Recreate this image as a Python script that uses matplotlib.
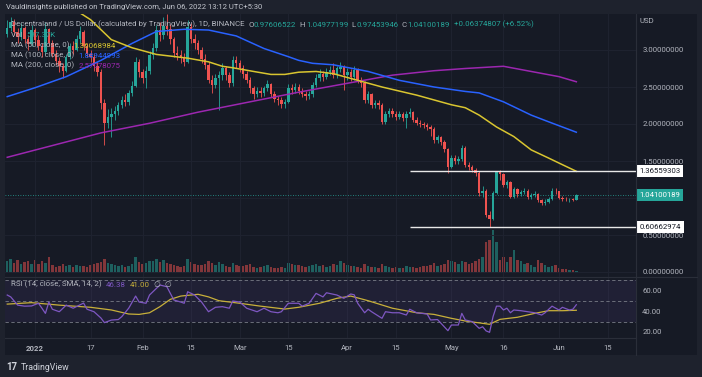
import numpy as np
import pandas as pd
import matplotlib
matplotlib.use("Agg")
import matplotlib.pyplot as plt
from matplotlib.lines import Line2D
from matplotlib.patches import Rectangle
import matplotlib.transforms as mtrans

plt.rcParams['font.family'] = ['Roboto', 'DejaVu Sans']

# ---------------- data ----------------
start_date = "2021-12-24"
first_open = 3.22
close = [3.30, 3.38, 3.24, 3.18, 3.30, 3.15, 3.08, 3.27,
         3.14, 3.05, 2.97, 3.28, 3.10, 2.95, 2.85, 2.78, 2.72, 2.90,
         3.05, 3.00, 3.15, 3.25, 3.05, 2.95, 2.90, 2.78, 2.70, 2.28,
         2.02, 2.10, 2.14, 2.18, 2.26, 2.32, 2.30, 2.42, 2.52, 2.84,
         2.70, 2.62, 2.72, 2.93, 3.03, 3.27, 3.20, 3.32, 3.28, 3.15,
         2.96, 2.93, 2.90, 2.84, 3.31, 3.15, 3.09, 3.00, 2.88, 2.80,
         2.60, 2.53, 2.62, 2.66, 2.75, 2.66, 2.55, 2.86, 2.82, 2.76,
         2.68, 2.60, 2.48, 2.40, 2.45, 2.42, 2.48, 2.54, 2.40, 2.34,
         2.32, 2.27, 2.30, 2.49, 2.46, 2.50, 2.45, 2.41, 2.38, 2.40,
         2.53, 2.62, 2.68, 2.64, 2.70, 2.73, 2.66, 2.75, 2.77, 2.66,
         2.70, 2.64, 2.73, 2.60, 2.55, 2.32, 2.40, 2.26, 2.28, 2.26,
         2.03, 2.14, 2.18, 2.14, 2.10, 2.14, 2.08, 2.13, 2.16, 2.06,
         2.02, 2.00, 1.98, 1.96, 1.93, 1.78, 1.82, 1.76, 1.66, 1.42,
         1.54, 1.50, 1.53, 1.68, 1.45, 1.42, 1.38, 1.34, 1.07, 1.10,
         0.77, 0.72, 1.07, 1.35, 1.33, 1.18, 1.21, 1.02, 1.12, 1.05,
         1.08, 1.10, 1.01, 1.04, 1.06, 0.97, 0.93, 0.95, 0.99, 1.10,
         1.09, 1.00, 0.99, 0.98, 0.985, 0.977, 1.041]
high = [3.40, 3.45, 3.42, 3.30, 3.36, 3.33, 3.20, 3.34,
        3.30, 3.20, 3.10, 3.38, 3.30, 3.14, 3.00, 2.90, 2.82, 2.94,
        3.10, 3.12, 3.20, 3.32, 3.27, 3.10, 3.00, 2.94, 2.84, 2.74,
        2.34, 2.20, 2.22, 2.24, 2.30, 2.38, 2.40, 2.46, 2.58, 2.90,
        2.88, 2.74, 2.78, 2.98, 3.10, 3.34, 3.38, 3.45, 3.48, 3.35,
        3.18, 3.05, 3.00, 2.96, 3.40, 3.36, 3.22, 3.14, 3.04, 2.95,
        2.84, 2.66, 2.68, 2.72, 2.82, 2.78, 2.70, 2.92, 2.92, 2.86,
        2.80, 2.72, 2.64, 2.52, 2.50, 2.50, 2.52, 2.60, 2.56, 2.44,
        2.38, 2.36, 2.34, 2.54, 2.54, 2.56, 2.54, 2.48, 2.45, 2.45,
        2.57, 2.67, 2.74, 2.72, 2.76, 2.78, 2.82, 2.79, 2.84, 2.80,
        2.76, 2.74, 2.78, 2.76, 2.64, 2.58, 2.45, 2.42, 2.33, 2.32,
        2.28, 2.18, 2.22, 2.21, 2.18, 2.18, 2.16, 2.17, 2.21, 2.18,
        2.09, 2.05, 2.03, 2.02, 1.99, 1.96, 1.85, 1.84, 1.78, 1.68,
        1.58, 1.58, 1.57, 1.72, 1.70, 1.48, 1.45, 1.40, 1.36, 1.16,
        1.12, 0.82, 1.10, 1.37, 1.38, 1.34, 1.25, 1.23, 1.15, 1.13,
        1.11, 1.13, 1.12, 1.07, 1.09, 1.07, 0.99, 0.98, 1.01, 1.13,
        1.13, 1.10, 1.03, 1.02, 1.00, 1.00, 1.0498]
low = [3.18, 3.26, 3.20, 3.10, 3.14, 3.10, 3.00, 3.05,
       3.08, 3.00, 2.90, 2.95, 3.05, 2.90, 2.80, 2.70, 2.62, 2.70,
       2.88, 2.95, 2.98, 3.10, 3.00, 2.90, 2.84, 2.72, 2.65, 2.20,
       1.72, 1.95, 1.83, 2.06, 2.12, 2.22, 2.24, 2.26, 2.38, 2.50,
       2.64, 2.55, 2.49, 2.68, 2.88, 2.98, 3.12, 3.15, 3.20, 3.08,
       2.90, 2.86, 2.82, 2.78, 2.82, 3.10, 3.02, 2.94, 2.82, 2.74,
       2.55, 2.42, 2.48, 2.19, 2.60, 2.60, 2.50, 2.52, 2.76, 2.70,
       2.62, 2.55, 2.42, 2.34, 2.36, 2.36, 2.38, 2.44, 2.36, 2.30,
       2.26, 2.22, 2.22, 2.28, 2.40, 2.42, 2.40, 2.36, 2.33, 2.34,
       2.37, 2.50, 2.58, 2.58, 2.61, 2.66, 2.62, 2.62, 2.70, 2.46,
       2.60, 2.58, 2.60, 2.56, 2.50, 2.28, 2.28, 2.22, 2.22, 2.20,
       2.00, 2.00, 2.10, 2.10, 2.06, 2.07, 2.04, 1.95, 2.10, 2.03,
       1.98, 1.96, 1.95, 1.92, 1.84, 1.75, 1.74, 1.72, 1.62, 1.34,
       1.40, 1.46, 1.46, 1.50, 1.42, 1.38, 1.35, 1.30, 1.03, 1.02,
       0.74, 0.61, 0.70, 1.05, 1.25, 1.15, 1.14, 1.00, 1.00, 1.02,
       1.03, 1.05, 0.99, 0.99, 1.01, 0.95, 0.91, 0.91, 0.93, 0.97,
       1.06, 0.98, 0.96, 0.96, 0.95, 0.96, 0.9745]
volume_m = [60, 70, 50, 65, 45, 55, 60, 45,
            65, 45, 60, 50, 80, 40, 30, 35, 45, 35, 40, 30, 40, 35, 35, 30, 40, 45, 50, 55,
            70, 50, 45, 40, 35, 40, 30, 35, 45, 80, 55, 45, 50, 60, 60, 70, 55, 65, 50, 45, 40, 35, 30, 35,
            70, 55, 45, 40, 40, 45, 60, 50, 40, 55, 45, 35, 30, 50, 40, 35, 35, 40, 45, 30,
            25, 30, 35, 40, 30, 25, 25, 30, 25, 50, 45, 40,
            40, 35, 30, 35, 40, 45, 35, 40, 30, 35, 45, 40,
            60, 50, 40, 35, 35, 30, 25, 45, 35, 30, 30, 25,
            45, 35, 30, 25, 30, 25, 25, 35, 30, 30, 25, 30,
            35, 35, 40, 50, 35, 40, 45, 65, 60, 55, 45, 60, 55, 45, 50, 60,
            70, 80, 155, 165, 215, 155, 65, 80, 55, 80, 115, 65, 60, 45, 50, 40, 30, 65, 50, 40,
            30, 35, 40, 25, 20, 20, 15, 15, 10]

ma50_dates = ["2022-01-09", "2022-01-14", "2022-01-17", "2022-01-23", "2022-01-29", "2022-02-05",
              "2022-02-14", "2022-02-20", "2022-02-24", "2022-02-27", "2022-03-05", "2022-03-10",
              "2022-03-14", "2022-03-18", "2022-03-23", "2022-03-28", "2022-04-04", "2022-04-11",
              "2022-04-21", "2022-05-01", "2022-05-05", "2022-05-09", "2022-05-14", "2022-05-19",
              "2022-05-24", "2022-05-29", "2022-06-02", "2022-06-06"]
ma50_vals = [3.64, 3.50, 3.41, 3.14, 3.03, 2.94, 2.89, 2.84, 2.78, 2.76, 2.71, 2.67, 2.67, 2.70,
             2.71, 2.68, 2.59, 2.50, 2.39, 2.26, 2.22, 2.12, 1.96, 1.83, 1.65, 1.54, 1.45, 1.361]
ma100_dates = ["2021-12-24", "2022-01-01", "2022-01-10", "2022-01-20", "2022-01-29", "2022-02-05",
               "2022-02-13", "2022-02-20", "2022-02-28", "2022-03-08", "2022-03-15", "2022-03-18",
               "2022-03-22", "2022-03-28", "2022-04-07", "2022-04-16", "2022-04-26", "2022-05-05",
               "2022-05-09", "2022-05-16", "2022-05-24", "2022-05-29", "2022-06-06"]
ma100_vals = [2.37, 2.49, 2.64, 2.86, 3.09, 3.25, 3.28, 3.27, 3.19, 3.02, 2.91, 2.86, 2.82, 2.80,
              2.71, 2.59, 2.50, 2.44, 2.42, 2.30, 2.12, 2.03, 1.889]
ma200_dates = ["2021-12-24", "2022-01-20", "2022-02-03", "2022-02-17", "2022-03-04", "2022-03-18",
               "2022-04-01", "2022-04-14", "2022-04-26", "2022-05-05", "2022-05-16", "2022-05-24",
               "2022-06-01", "2022-06-06"]
ma200_vals = [1.55, 1.88, 2.01, 2.16, 2.30, 2.43, 2.55, 2.66, 2.72, 2.75, 2.78, 2.71, 2.64, 2.571]

rsi_dates = ["2021-12-24", "2021-12-25", "2021-12-27", "2021-12-29", "2021-12-31", "2022-01-02",
             "2022-01-03", "2022-01-04", "2022-01-05", "2022-01-06", "2022-01-08", "2022-01-10",
             "2022-01-12", "2022-01-15", "2022-01-16", "2022-01-18", "2022-01-20", "2022-01-21",
             "2022-01-23", "2022-01-25", "2022-01-26", "2022-01-28", "2022-01-30", "2022-01-31",
             "2022-02-02", "2022-02-03", "2022-02-05", "2022-02-06", "2022-02-08", "2022-02-10",
             "2022-02-12", "2022-02-13", "2022-02-14", "2022-02-16", "2022-02-18", "2022-02-20",
             "2022-02-22", "2022-02-24", "2022-02-26", "2022-02-27", "2022-03-01", "2022-03-03",
             "2022-03-06", "2022-03-08", "2022-03-10", "2022-03-12", "2022-03-13", "2022-03-15",
             "2022-03-18", "2022-03-19", "2022-03-21", "2022-03-23", "2022-03-25", "2022-03-26",
             "2022-03-29", "2022-03-31", "2022-04-02", "2022-04-03", "2022-04-04", "2022-04-06",
             "2022-04-07", "2022-04-08", "2022-04-11", "2022-04-12", "2022-04-14", "2022-04-16",
             "2022-04-18", "2022-04-19", "2022-04-21", "2022-04-24", "2022-04-25", "2022-04-27",
             "2022-04-28", "2022-04-30", "2022-05-01", "2022-05-03", "2022-05-04", "2022-05-05",
             "2022-05-07", "2022-05-09", "2022-05-10", "2022-05-11", "2022-05-12", "2022-05-13",
             "2022-05-14", "2022-05-15", "2022-05-16", "2022-05-17", "2022-05-18", "2022-05-19",
             "2022-05-21", "2022-05-23", "2022-05-25", "2022-05-27", "2022-05-28", "2022-05-30",
             "2022-06-01", "2022-06-02", "2022-06-04", "2022-06-05", "2022-06-06"]
rsi_vals = [55.8, 54.0, 46.0, 45.0, 45.2, 47.8, 43.0, 38.0, 49.0, 42.0, 39.6, 46.0,
            43.0, 48.0, 42.0, 39.6, 33.5, 29.0, 31.5, 32.0, 34.8, 43.0, 54.8, 49.0,
            47.8, 55.8, 62.3, 65.5, 63.9, 51.0, 49.0, 47.8, 59.0, 55.8, 49.0, 39.6,
            43.9, 44.5, 43.0, 50.0, 49.0, 43.0, 39.6, 43.0, 39.6, 38.6, 39.6, 47.8,
            47.8, 45.0, 47.8, 57.4, 54.0, 58.0, 55.8, 52.6, 56.8, 56.0, 47.8, 38.6,
            42.0, 39.6, 33.2, 39.6, 38.6, 38.6, 36.4, 42.0, 38.6, 37.4, 31.6, 32.0,
            28.4, 21.2, 26.7, 26.7, 38.0, 31.6, 30.0, 23.5, 25.0, 21.0, 19.6, 34.8,
            45.0, 45.0, 41.3, 43.0, 38.6, 41.3, 40.6, 39.6, 38.6, 36.4, 38.6, 45.0,
            41.3, 43.9, 41.3, 42.0, 46.38]
rsi_sma_dates = ["2021-12-24", "2021-12-31", "2022-01-08", "2022-01-17", "2022-01-23", "2022-01-28",
                 "2022-01-31", "2022-02-03", "2022-02-06", "2022-02-09", "2022-02-12", "2022-02-17",
                 "2022-02-20", "2022-02-23", "2022-03-01", "2022-03-07", "2022-03-14", "2022-03-18",
                 "2022-03-24", "2022-03-29", "2022-04-02", "2022-04-07", "2022-04-14", "2022-04-21",
                 "2022-04-26", "2022-05-01", "2022-05-05", "2022-05-12", "2022-05-15", "2022-05-20",
                 "2022-05-25", "2022-05-29", "2022-06-02", "2022-06-06"]
rsi_sma_vals = [47.0, 48.4, 46.0, 43.9, 41.3, 37.4, 37.0, 38.6, 44.5, 51.6, 54.8, 56.5, 54.0, 50.3,
                47.8, 45.0, 42.2, 43.9, 47.8, 52.6, 54.8, 50.3, 43.0, 38.6, 37.0, 33.2, 30.6, 27.4,
                32.2, 34.2, 38.0, 40.6, 40.6, 41.0]

time_tick_dates = ["2022-01-01", "2022-01-17", "2022-02-01", "2022-02-15", "2022-03-01", "2022-03-15",
                   "2022-04-01", "2022-04-15", "2022-05-01", "2022-05-16", "2022-06-01", "2022-06-15"]
time_tick_labels = ["2022", "17", "Feb", "15", "Mar", "15", "Apr", "15", "May", "16", "Jun", "15"]
price_ticks = [0.0, 0.5, 1.0, 1.5, 2.0, 2.5, 3.0]
price_tick_labels = ["0.00000000", "0.50000000", "", "1.50000000", "2.00000000", "2.50000000", "3.00000000"]
rsi_ticks = [20, 40, 60]
rsi_levels = [30, 50, 70]
resistance = 1.36559303
support = 0.60662974
last_close = 1.04100189
levels_start = "2022-04-19"

title = "Vauldinsights published on TradingView.com, Jun 06, 2022 13:12 UTC+5:30"

# ---------------- style ----------------
W, H = 702, 377
FRAME = '#1e222d'
BG = '#161a25'
GRID = '#1f2330'
TXT = '#b2b5be'
UP = '#26a69a'
DN = '#ef5350'
C50 = '#d9c530'
C100 = '#2962ff'
C200 = '#9c27b0'
CRSI = '#7e57c2'
CSMA = '#c8b03a'

base = pd.Timestamp("2022-01-01")


def dn(s):
    return (pd.Timestamp(s) - base).days


def rect(x0, y0, x1, y1):
    return [x0 / W, 1 - y1 / H, (x1 - x0) / W, (y1 - y0) / H]


def px2d(px):
    return (px - 35) / 3.47


def py2p(py):
    return (272 - py) / 74.0


fig = plt.figure(figsize=(W / 100, H / 100), dpi=100)
fig.patch.set_facecolor(FRAME)
fig.patches.append(Rectangle((5 / W, 1 - 355 / H), 692 / W, 341 / H, transform=fig.transFigure,
                             facecolor=BG, edgecolor='none', zorder=-10))

n = len(close)
assert len(high) == n and len(low) == n and len(volume_m) == n, (len(close), len(high), len(low), len(volume_m))
dates = pd.date_range(start_date, periods=n, freq='D')
x = np.array([(d - base).days for d in dates], float)
c = np.array(close)
o = np.array([first_open] + close[:-1])
hi = np.array(high)
lo = np.array(low)
up = c >= o
col = np.where(up, UP, DN)

xlim = (px2d(5), px2d(636))

# main pane
ax = fig.add_axes(rect(5, 14, 636, 277))
axv = ax.twinx()
ax.set_zorder(axv.get_zorder() + 1)
ax.patch.set_visible(False)
axv.patch.set_visible(False)

axv.bar(x, volume_m, width=0.72, color=col, alpha=0.5, linewidth=0)
axv.set_ylim(-20, 1295)
axv.set_yticks([])

ax.set_xlim(*xlim)
ax.set_ylim(py2p(277), py2p(14))
for p in price_ticks:
    ax.axhline(p, color=GRID, lw=0.7, zorder=0)
tick_x = [dn(s) for s in time_tick_dates]
for t in tick_x:
    ax.axvline(t, color=GRID, lw=0.7, zorder=0)

ax.vlines(x, lo, hi, colors=col, lw=0.6, zorder=3)
body = np.maximum(np.abs(c - o), 0.008)
ax.bar(x, body, bottom=np.minimum(o, c), width=0.7, color=col, linewidth=0, zorder=4)

ax.plot([dn(s) for s in ma200_dates], ma200_vals, color=C200, lw=1.1, zorder=5)
ax.plot([dn(s) for s in ma100_dates], ma100_vals, color=C100, lw=1.1, zorder=5)
ax.plot([dn(s) for s in ma50_dates], ma50_vals, color=C50, lw=1.1, zorder=5)

ax.axhline(last_close, color=UP, lw=0.6, ls=(0, (1, 2)), zorder=2)
ax.hlines([resistance, support], dn(levels_start), xlim[1], colors='#e8e8e8', lw=1.0, zorder=6)

ax.yaxis.tick_right()
ax.set_yticks(price_ticks)
ax.set_yticklabels(price_tick_labels)
ax.tick_params(axis='y', length=0, pad=4.5, labelsize=5.6, labelcolor=TXT)
ax.set_xticks([])
for sp in list(ax.spines.values()) + list(axv.spines.values()):
    sp.set_visible(False)

btr = mtrans.blended_transform_factory(ax.transAxes, ax.transData)
xb = 1 + 3.5 / 631
for val, fc, tc in [(resistance, 'white', '#131722'), (last_close, UP, 'white'), (support, 'white', '#131722')]:
    ax.text(xb, val, f"{val:.8f}", transform=btr, va='center', ha='left', fontsize=5.6, color=tc,
            bbox=dict(boxstyle='square,pad=0.35', fc=fc, ec='none'), clip_on=False, zorder=10)
fig.text(640 / W, 1 - 21 / H, "USD", fontsize=5.6, color=TXT, va='center', ha='left')

# RSI pane
axr = fig.add_axes(rect(5, 277, 636, 338))
axr.patch.set_visible(False)
axr.set_xlim(*xlim)
axr.set_ylim(14.1, 73.3)
for t in tick_x:
    axr.axvline(t, color=GRID, lw=0.7, zorder=0)
axr.axhspan(rsi_levels[0], rsi_levels[2], color=CRSI, alpha=0.1, lw=0, zorder=1)
for lv in rsi_levels:
    axr.axhline(lv, color='#787b86', lw=0.6, ls=(0, (4, 3)), zorder=2)
axr.plot([dn(s) for s in rsi_sma_dates], rsi_sma_vals, color=CSMA, lw=0.9, zorder=3)
axr.plot([dn(s) for s in rsi_dates], rsi_vals, color=CRSI, lw=0.9, zorder=4)
axr.yaxis.tick_right()
axr.set_yticks(rsi_ticks)
axr.set_yticklabels([f"{v:.2f}" for v in rsi_ticks])
axr.set_xticks(tick_x)
axr.set_xticklabels(time_tick_labels)
axr.get_xticklabels()[0].set_fontweight('bold')
axr.tick_params(axis='y', length=0, pad=4.5, labelsize=5.6, labelcolor=TXT)
axr.tick_params(axis='x', length=0, pad=5, labelsize=5.6, labelcolor=TXT)
for sp in axr.spines.values():
    sp.set_visible(False)

# separators
for (x0, y0, x1, y1) in [(636, 14, 636, 355), (5, 277, 697, 277), (5, 338, 636, 338)]:
    fig.add_artist(Line2D([x0 / W, x1 / W], [1 - y0 / H, 1 - y1 / H], color='#2a2e39', lw=0.8))

# texts


def chain(parts, x_px, y_px, size=5.7):
    prev = None
    for s, colr in parts:
        if prev is None:
            prev = fig.text(x_px / W, 1 - y_px / H, s, color=colr, fontsize=size, va='center', ha='left', zorder=20)
        else:
            prev = ax.annotate(s, xy=(1, 0), xycoords=prev, va='bottom', ha='left', color=colr,
                               fontsize=size, annotation_clip=False, zorder=20)
    return prev


fig.text(6 / W, 1 - 7.5 / H, title, color='#c3c6ce', fontsize=5.5, va='center', ha='left')
chain([("Decentraland / US Dollar (calculated by TradingView), 1D, BINANCE  ", TXT),
       ("O", TXT), ("0.97606522", UP), ("  H", TXT), ("1.04977199", UP), ("  L", TXT),
       ("0.97453946", UP), ("  C", TXT), ("1.04100189", UP), ("  +0.06374807 (+6.52%)", UP)], 11, 24)
chain([("Vol  ", TXT), ("597.37K", UP)], 11, 35)
chain([("MA (50, close, 0)  ", TXT), ("1.36068984", C50)], 11, 45)
chain([("MA (100, close, 0)  ", TXT), ("1.88944993", C100)], 11, 55)
chain([("MA (200, close, 0)  ", TXT), ("2.57078075", C200)], 11, 65)
chain([("RSI (14, close, SMA, 14, 2)  ", TXT), ("46.38", CRSI), ("  ", TXT), ("41.00", CSMA),
       ("  \u2205  \u2205", TXT)], 11, 284)

fig.text(6 / W, 1 - 367 / H, "17", color='#d1d4dc', fontsize=7, fontweight='bold', va='center', ha='left')
fig.text(21 / W, 1 - 367 / H, "TradingView", color='#d1d4dc', fontsize=6.3, va='center', ha='left')

fig.savefig("out.png", dpi=100, facecolor=FRAME)
